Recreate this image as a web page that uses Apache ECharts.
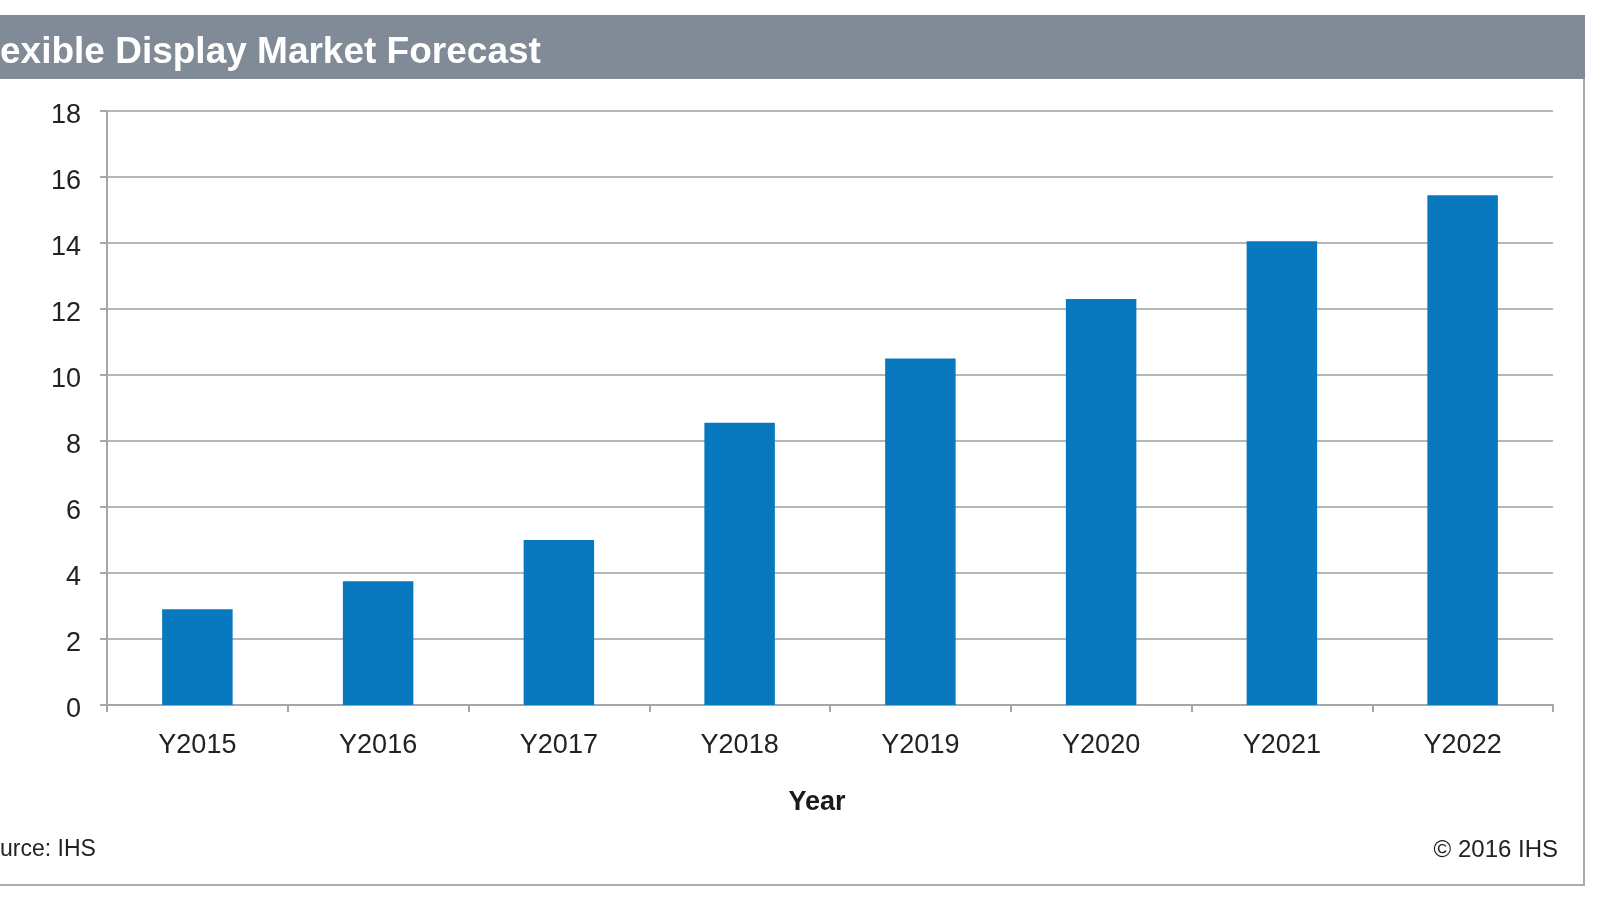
<!DOCTYPE html>
<html>
<head>
<meta charset="utf-8">
<script src="https://cdn.jsdelivr.net/npm/echarts@6/dist/echarts.min.js"></script>
<style>html,body{margin:0;padding:0;background:#fff}#c{width:1600px;height:900px}</style>
</head>
<body>
<div id="c"></div>
<script>
const titleText = 'exible Display Market Forecast';
const sourceText = 'urce: IHS';
const copyrightText = '© 2016 IHS';
const xAxisTitle = 'Year';
const categories = ['Y2015','Y2016','Y2017','Y2018','Y2019','Y2020','Y2021','Y2022'];
const values = [2.9, 3.75, 5.0, 8.55, 10.5, 12.3, 14.05, 15.45];
const yTicks = {min: 0, max: 18, interval: 2};

const FONT = '"Liberation Sans", Arial, Helvetica, sans-serif';
const chart = echarts.init(document.getElementById('c'), null, {renderer: 'canvas'});
chart.setOption({
  animation: false,
  backgroundColor: '#ffffff',
  grid: {left: 107, right: 47, top: 111, bottom: 195, containLabel: false},
  xAxis: {
    type: 'category',
    data: categories,
    name: xAxisTitle,
    nameLocation: 'middle',
    nameGap: 84,
    nameTextStyle: {fontFamily: FONT, fontSize: 27, fontWeight: 'bold', color: '#1a1a1a', padding: [0, 26, 0, 0]},
    axisLine: {lineStyle: {color: '#a3a7ab', width: 2}},
    axisTick: {show: true, length: 7, lineStyle: {color: '#a3a7ab', width: 2}},
    axisLabel: {fontFamily: FONT, fontSize: 27, color: '#222222', margin: 27}
  },
  yAxis: {
    type: 'value',
    min: yTicks.min, max: yTicks.max, interval: yTicks.interval,
    axisLine: {show: true, lineStyle: {color: '#a3a7ab', width: 2}},
    axisTick: {show: true, length: 7, lineStyle: {color: '#a3a7ab', width: 2}},
    axisLabel: {
      margin: 26,
      formatter: '{v|{value}}',
      rich: {v: {fontFamily: FONT, fontSize: 27, color: '#222222', padding: [10, 0, 0, 0]}}
    },
    splitLine: {show: true, lineStyle: {color: '#b3b8bd', width: 2}}
  },
  series: [{
    type: 'bar',
    data: values,
    barWidth: '39%',
    itemStyle: {color: '#0878bf'}
  }],
  graphic: [
    {type: 'rect', shape: {x: 0, y: 15, width: 1585, height: 64}, style: {fill: '#808b97'}, z: 0},
    {type: 'line', shape: {x1: 1584, y1: 79, x2: 1584, y2: 886}, style: {stroke: '#a9adb1', lineWidth: 2}},
    {type: 'line', shape: {x1: 0, y1: 885, x2: 1585, y2: 885}, style: {stroke: '#a9adb1', lineWidth: 2}},
    {type: 'text', left: 0, top: 34, style: {text: titleText, font: 'bold 37px ' + FONT, fill: '#ffffff'}},
    {type: 'text', left: 0, top: 838, style: {text: sourceText, font: '23px ' + FONT, fill: '#222222'}},
    {type: 'text', right: 42, top: 838, style: {text: copyrightText, font: '24px ' + FONT, fill: '#222222'}}
  ]
});
</script>
</body>
</html>
